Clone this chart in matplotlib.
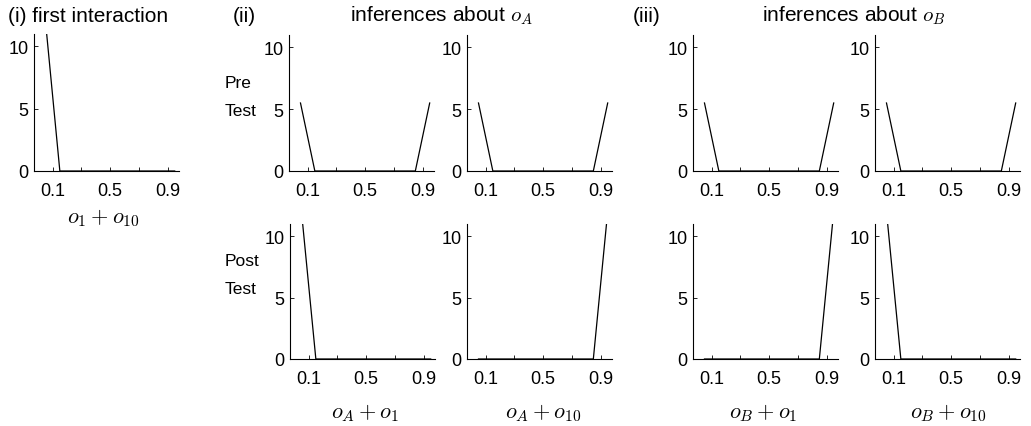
import matplotlib.pyplot as plt

plt.rcParams['font.family'] = ['Liberation Sans', 'DejaVu Sans']
plt.rcParams['mathtext.fontset'] = 'cm'

# data (bin centres and heights)
x_bins = [0.05, 0.15, 0.25, 0.35, 0.45, 0.55, 0.65, 0.75, 0.85, 0.95]
first_interaction = [12, 0, 0, 0, 0, 0, 0, 0, 0, 0]
pre_test = [5.5, 0, 0, 0, 0, 0, 0, 0, 0, 5.5]
post_low = [12, 0, 0, 0, 0, 0, 0, 0, 0, 0]
post_high = [0, 0, 0, 0, 0, 0, 0, 0, 0, 12]

x_ticks = [0.1, 0.3, 0.5, 0.7, 0.9]
x_ticklabels = ['0.1', '', '0.5', '', '0.9']
y_ticks = [0, 5, 10]

W, H = 1031, 427
fig = plt.figure(figsize=(W / 100, H / 100), dpi=100)


def px(x, y):
    return x / W, 1 - y / H


def panel(left, top, bottom, values, width=145):
    ax = fig.add_axes([left / W, 1 - bottom / H, width / W, (bottom - top) / H])
    ax.plot(x_bins, values, color='black', lw=0.9)
    ax.set_xlim(-0.03, 0.98)
    ax.set_ylim(0, 11)
    ax.set_xticks(x_ticks)
    ax.set_xticklabels(x_ticklabels)
    ax.set_yticks(y_ticks)
    ax.tick_params(direction='in', length=3, width=0.6, labelsize=13)
    ax.tick_params(axis='x', pad=8)
    ax.tick_params(axis='y', pad=4)
    for s in ['top', 'right']:
        ax.spines[s].set_visible(False)
    for s in ['left', 'bottom']:
        ax.spines[s].set_linewidth(0.8)
    return ax


# (i) first interaction
panel(34, 35, 172, first_interaction)

# (ii) inferences about o_A
panel(289, 36, 172, pre_test)
panel(467, 36, 172, pre_test)
panel(290, 225, 360, post_low)
panel(467, 225, 360, post_high)

# (iii) inferences about o_B
panel(693, 36, 172, pre_test)
panel(875, 36, 172, pre_test)
panel(693, 225, 360, post_high)
panel(875, 225, 360, post_low)

# titles
fig.text(*px(8, 16), '(i) first interaction', fontsize=15, va='center', ha='left')
fig.text(*px(233, 16), '(ii)', fontsize=15, va='center', ha='left')
fig.text(*px(441, 16), r'inferences about $o_A$', fontsize=15, va='center', ha='center')
fig.text(*px(633, 16), '(iii)', fontsize=15, va='center', ha='left')
fig.text(*px(854, 16), r'inferences about $o_B$', fontsize=15, va='center', ha='center')

# row labels
fig.text(*px(225, 83), 'Pre', fontsize=12.5, va='center', ha='left')
fig.text(*px(225, 111), 'Test', fontsize=12.5, va='center', ha='left')
fig.text(*px(225, 262), 'Post', fontsize=12.5, va='center', ha='left')
fig.text(*px(225, 290), 'Test', fontsize=12.5, va='center', ha='left')

# x labels
fig.text(*px(103, 218), r'$o_1 + o_{10}$', fontsize=16, va='center', ha='center')
fig.text(*px(365, 413), r'$o_A + o_1$', fontsize=16, va='center', ha='center')
fig.text(*px(543, 413), r'$o_A + o_{10}$', fontsize=16, va='center', ha='center')
fig.text(*px(763, 413), r'$o_B + o_1$', fontsize=16, va='center', ha='center')
fig.text(*px(948, 413), r'$o_B + o_{10}$', fontsize=16, va='center', ha='center')

fig.savefig('out.png', dpi=100)
